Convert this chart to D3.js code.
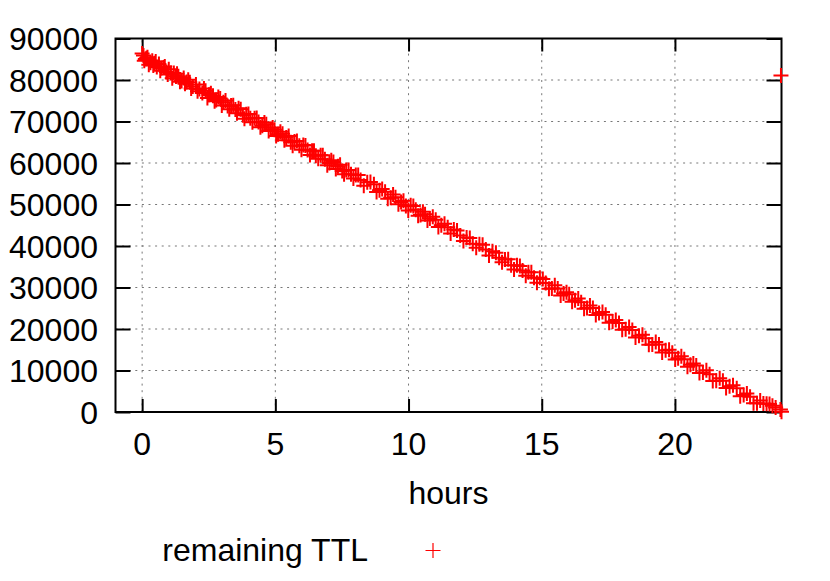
<!DOCTYPE html>
<html><head><meta charset="utf-8">
<script src="https://cdn.jsdelivr.net/npm/d3@7"></script>
<style>body{margin:0;background:#fff}text{font-family:"Liberation Sans",Arial,sans-serif;fill:#000}</style>
</head><body>
<script>
const xTicks = [0, 5, 10, 15, 20];
const yTicks = [0, 10000, 20000, 30000, 40000, 50000, 60000, 70000, 80000, 90000];
const seriesName = "remaining TTL";
const hoursA = [0.00,0.05,0.12,0.20,0.31,0.38,0.47,0.55,0.63,0.72,0.80,0.91,1.00,1.08,1.19,1.27,1.36,1.48,1.56,1.67,1.79,1.90,2.02,2.15,2.26,2.38,2.51,2.66,2.78,2.93,3.05,3.21,3.34,3.50,3.62,3.78,3.91,4.06,4.22,4.37,4.51,4.66,4.83,4.97,5.10,5.27,5.41,5.58,5.72,5.90,6.05,6.21,6.38,6.52,6.70,6.86,7.03,7.18,7.35,7.51,7.66,7.84,8.02,8.20,8.45,8.70,8.91,9.12,9.33,9.51,9.72,9.90,10.08,10.27,10.45,10.62,10.80,11.02,11.23,11.47,11.70,11.94,12.18,12.41,12.66,12.90,13.15,13.40,13.62,13.85,14.07,14.28,14.50,14.71,14.93,15.15,15.38,15.60,15.82,16.03,16.25,16.48,16.70,16.92,17.15,17.40,17.66,17.90,18.15,18.40,18.65,18.90,19.15,19.40,19.65,19.90,20.12,20.35,20.58,20.80,21.05,21.30,21.55,21.80,22.05,22.32,22.58,22.82,23.08,23.32,23.55,23.78,23.96,24.00,23.98];
const ttlA = [86400,85920,85068,85480,84184,84632,84008,83120,83832,82908,83020,81924,82600,81712,81716,80828,80904,79772,80484,79488,79456,78460,78928,77860,76864,77432,76464,76224,75192,75552,74620,73744,73876,72900,73168,71492,71724,70784,70808,69868,68964,69324,68112,68008,66940,67028,66124,65012,65208,64160,64320,63144,62932,61728,61880,60904,59992,60252,59240,58064,58324,57276,57128,55880,55380,54880,53424,53068,51612,51764,50608,49660,49812,48728,47480,47668,46620,46328,44972,44508,43980,42516,42052,40524,40424,39160,38760,37160,36768,35340,35348,34092,33700,32344,32352,31060,29732,29740,28548,28392,26900,26472,25080,25088,23860,23460,21824,21460,19960,19760,18360,17760,16260,16260,14860,14260,12968,12740,11412,11220,9520,9120,7520,7520,6220,5748,4112,3648,2112,2048,1900,1100,600,80,81100];
const hoursB = [0.08,0.16,0.25,0.42,0.51,0.68,0.85,0.96,1.13,1.31,1.42,1.61,1.73,1.84,2.08,2.32,2.45,2.58,2.72,2.86,2.99,3.13,3.27,3.42,3.56,3.70,3.84,3.99,4.14,4.30,4.44,4.59,4.75,4.90,5.03,5.19,5.34,5.50,5.65,5.81,5.98,6.13,6.30,6.45,6.61,6.78,6.95,7.10,7.27,7.43,7.58,7.75,7.93,8.11,8.32,8.57,8.80,9.01,9.22,9.42,9.62,9.81,9.99,10.18,10.36,10.54,10.71,10.91,11.12,11.35,11.58,11.82,12.06,12.30,12.54,12.78,13.02,13.28,13.51,13.74,13.96,14.18,14.40,14.61,14.82,15.04,15.27,15.49,15.71,15.93,16.14,16.37,16.59,16.81,17.03,17.28,17.53,17.78,18.02,18.28,18.52,18.78,19.02,19.28,19.52,19.78,20.01,20.24,20.47,20.69,20.92,21.18,21.42,21.68,21.92,22.18,22.45,22.70,22.95,23.20,23.44,23.66];
const ttlB = [84612,85224,83700,83488,84464,82252,83240,81344,80432,81484,79588,79104,80072,77976,77312,77948,75680,76812,74908,75904,73836,75032,72928,73888,71984,72980,70676,71836,69796,70820,68616,69776,67700,68560,66492,67516,65476,66500,64160,65284,63172,64232,61920,62980,61004,61892,59480,60640,58528,59552,57312,58300,56252,57104,54548,55448,53020,53764,51408,52388,50068,50884,48536,49652,47304,48256,46144,47024,44568,45340,43012,43748,41184,41920,39556,40292,37728,38392,36064,36836,34344,35152,32860,33704,31148,32056,29728,30536,28044,28852,26596,27368,24876,25684,23392,24092,21492,22192,19828,20492,17928,18592,16228,16892,14328,14992,12664,13436,10908,11716,9388,10052,7488,8152,5788,6452,3780,4480,2080,2780,2000,1500];
const data = hoursA.map((h, i) => ({h, v: ttlA[i]})).concat(hoursB.map((h, i) => ({h, v: ttlB[i]})));

const W = 830, H = 581;
const L = 115.5, R = 781.5, T = 38.5, B = 412;
const FS = 32;
const svg = d3.select("body").append("svg").attr("width", W).attr("height", H);
const x = d3.scaleLinear().domain([-1, 24]).range([L, R]);
const y = d3.scaleLinear().domain([0, 90000]).range([B, T]);

// grid
const g = svg.append("g").attr("stroke", "#777").attr("stroke-width", 1).attr("stroke-dasharray", "2,4.6");
g.selectAll(".gx").data(xTicks).join("line").attr("x1", d => x(d)).attr("x2", d => x(d)).attr("y1", B).attr("y2", T);
g.selectAll(".gy").data(yTicks.filter(d => d > 0 && d < 90000)).join("line").attr("y1", d => y(d)).attr("y2", d => y(d)).attr("x1", L).attr("x2", R);

// axes (gnuplot style: inward ticks, mirrored)
const axB = svg.append("g").attr("transform", `translate(0,${B})`).call(d3.axisBottom(x).tickValues(xTicks).tickSizeInner(-13).tickSizeOuter(0).tickFormat(""));
const axT = svg.append("g").attr("transform", `translate(0,${T})`).call(d3.axisTop(x).tickValues(xTicks).tickSizeInner(-13).tickSizeOuter(0).tickFormat(""));
const axL = svg.append("g").attr("transform", `translate(${L},0)`).call(d3.axisLeft(y).tickValues(yTicks).tickSizeInner(-15).tickSizeOuter(0).tickFormat(""));
const axR = svg.append("g").attr("transform", `translate(${R},0)`).call(d3.axisRight(y).tickValues(yTicks).tickSizeInner(-15).tickSizeOuter(0).tickFormat(""));
[axB, axT, axL, axR].forEach(a => { a.selectAll("path").remove(); a.selectAll("line").attr("stroke", "#000").attr("stroke-width", 2); });
svg.append("rect").attr("x", L).attr("y", T).attr("width", R - L).attr("height", B - T)
  .attr("fill", "none").attr("stroke", "#000").attr("stroke-width", 2);

// tick labels
svg.selectAll(".xl").data(xTicks).join("text").attr("x", d => x(d)).attr("y", 455)
  .attr("text-anchor", "middle").attr("font-size", FS).text(d => d);
svg.selectAll(".yl").data(yTicks).join("text").attr("x", 98).attr("y", d => y(d) + FS * 0.36)
  .attr("text-anchor", "end").attr("font-size", FS).text(d => d);
svg.append("text").attr("x", (L + R) / 2).attr("y", 504).attr("text-anchor", "middle").attr("font-size", FS).text("hours");

// points
const plus = (sel, s) => sel.attr("d", `M${-s},0H${s}M0,${-s}V${s}`);
svg.append("g").selectAll("path").data(data).join("path")
  .attr("transform", d => `translate(${x(d.h)},${y(d.v)})`)
  .call(plus, 7.5).attr("stroke", "#ff0000").attr("stroke-width", 2).attr("fill", "none");

// legend
svg.append("text").attr("x", 368).attr("y", 560.5).attr("text-anchor", "end").attr("font-size", FS).text(seriesName);
svg.append("path").attr("transform", "translate(433,550.5)").call(plus, 7.5)
  .attr("stroke", "#ff0000").attr("stroke-width", 1.2).attr("fill", "none");
</script>
</body></html>
